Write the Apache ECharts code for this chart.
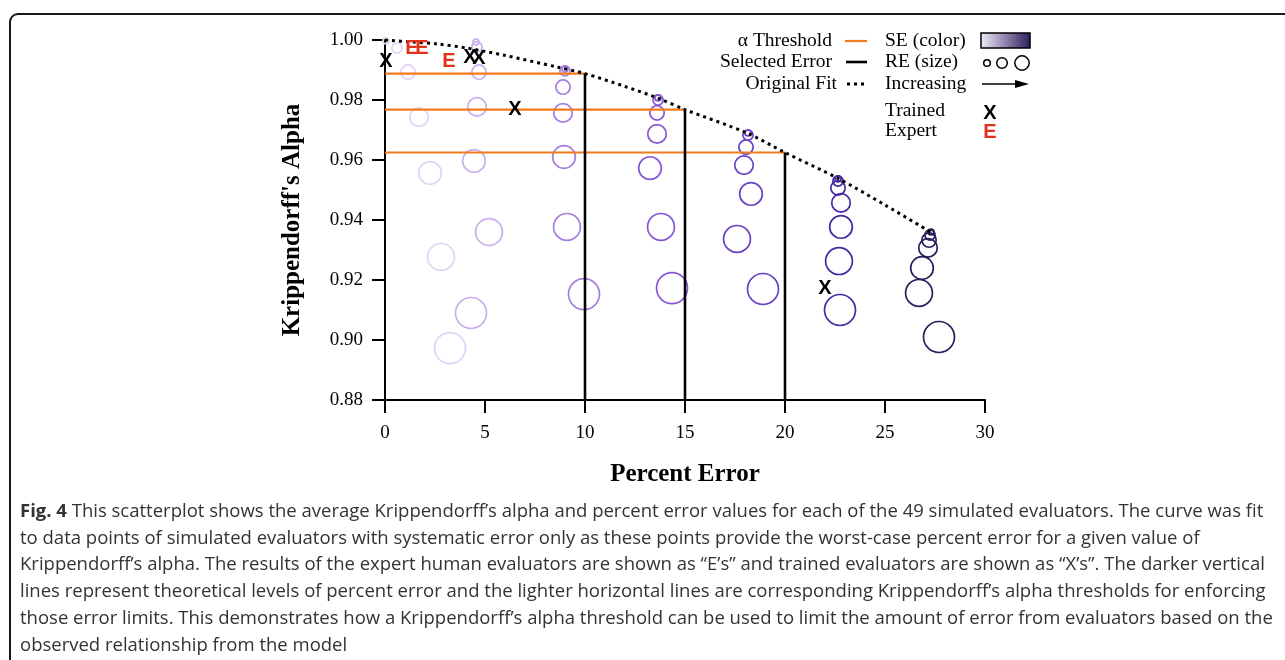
<!DOCTYPE html>
<html>
<head>
<meta charset="utf-8">
<title>Fig. 4</title>
<script src="https://cdn.jsdelivr.net/npm/echarts@6.0.0/dist/echarts.min.js"></script>
<style>
  html, body { margin: 0; padding: 0; background: #fff; }
  #main { position: absolute; left: 0; top: 0; width: 1285px; height: 495px; }
  #frame { position: absolute; left: 9px; top: 13px; width: 1320px; height: 700px; border: 2px solid #1a1a1a; border-radius: 9px; pointer-events: none; }
  #caption { position: absolute; left: 20px; top: 497px; font-family: 'Open Sans', sans-serif; font-size: 18.5px; line-height: 26.7px; color: #333; white-space: nowrap; }
</style>
</head>
<body>
<div id="main"></div>
<div id="frame"></div>
<div id="caption"><b>Fig. 4</b> This scatterplot shows the average Krippendorff’s alpha and percent error values for each of the 49 simulated evaluators. The curve was fit<br>to data points of simulated evaluators with systematic error only as these points provide the worst-case percent error for a given value of<br>Krippendorff’s alpha. The results of the expert human evaluators are shown as “E’s” and trained evaluators are shown as “X’s”. The darker vertical<br>lines represent theoretical levels of percent error and the lighter horizontal lines are corresponding Krippendorff’s alpha thresholds for enforcing<br>those error limits. This demonstrates how a Krippendorff’s alpha threshold can be used to limit the amount of error from evaluators based on the<br>observed relationship from the model</div>
<script>
// simulated evaluators: one row per SE level (light -> dark), RE level 0..6 inside each row
var reLevels = [0, 1, 2, 3, 4, 5, 6];
var simError = [
  [0.05, 0.6, 1.15, 1.7, 2.25, 2.8, 3.25],
  [4.55, 4.6, 4.7, 4.6, 4.45, 5.2, 4.3],
  [9.0, 9.0, 8.9, 8.9, 8.95, 9.1, 9.95],
  [13.65, 13.65, 13.6, 13.6, 13.25, 13.8, 14.35],
  [18.15, 18.15, 18.05, 17.95, 18.3, 17.6, 18.9],
  [22.65, 22.65, 22.65, 22.8, 22.8, 22.7, 22.75],
  [27.3, 27.25, 27.2, 27.15, 26.85, 26.7, 27.7]
];
var simAlpha = [
  [0.9997, 0.9973, 0.9893, 0.9743, 0.9557, 0.9277, 0.8973],
  [0.9993, 0.9977, 0.9893, 0.9777, 0.9597, 0.9360, 0.9090],
  [0.9903, 0.9897, 0.9843, 0.9757, 0.9610, 0.9377, 0.9153],
  [0.9807, 0.9800, 0.9757, 0.9687, 0.9573, 0.9377, 0.9173],
  [0.9690, 0.9683, 0.9643, 0.9583, 0.9487, 0.9337, 0.9170],
  [0.9537, 0.9530, 0.9507, 0.9457, 0.9377, 0.9263, 0.9100],
  [0.9360, 0.9350, 0.9333, 0.9307, 0.9240, 0.9157, 0.9010]
];

// original fit curve
var fitError = [0, 1.4, 2.6, 4.1, 5.9, 8.6, 10, 12, 13.7, 15, 18.1, 20, 22.7, 25, 27.4];
var fitAlpha = [1.000, 0.9993, 0.9987, 0.9973, 0.9950, 0.9910, 0.9888, 0.9845, 0.9805, 0.9768, 0.9690, 0.9625, 0.9537, 0.9450, 0.9355];

// selected error levels and their alpha thresholds
var selectedError = [10, 15, 20];
var alphaThreshold = [0.9888, 0.9768, 0.9625];

// human evaluators
var trainedError = [0.05, 4.25, 4.7, 6.5, 22.0];
var trainedAlpha = [0.9927, 0.9943, 0.9940, 0.9767, 0.9173];
var expertError = [1.35, 1.85, 3.2];
var expertAlpha = [0.9973, 0.9973, 0.9927];

var seColors = ['#e2d3f5', '#caaeee', '#a47ee2', '#8656d6', '#6a40c6', '#4528a2', '#25205e'];
var serif = '"Liberation Serif", "Times New Roman", serif';
var sans = '"Liberation Sans", Arial, sans-serif';

var myChart = echarts.init(document.getElementById('main'));

var series = [];
simError.forEach(function (row, i) {
  series.push({
    type: 'scatter',
    name: 'SE' + i,
    symbol: 'circle',
    data: row.map(function (x, j) { return [x, simAlpha[i][j], reLevels[j]]; }),
    itemStyle: { color: 'rgba(255,255,255,0)', borderColor: seColors[i], borderWidth: 1.7, opacity: 1 },
    emphasis: { disabled: true },
    z: 2
  });
});
var nBubble = series.length;

series.push({
  type: 'line',
  name: 'Original Fit',
  data: fitError.map(function (x, i) { return [x, fitAlpha[i]]; }),
  smooth: 0.3,
  symbol: 'none',
  lineStyle: { color: '#000', width: 3, type: [3, 4] },
  z: 5
});

selectedError.forEach(function (e, i) {
  series.push({
    type: 'line', name: 'threshold' + i, symbol: 'none',
    data: [[0, alphaThreshold[i]], [e, alphaThreshold[i]]],
    lineStyle: { color: '#f07a1c', width: 2.2 }, z: 3
  });
  series.push({
    type: 'line', name: 'selected' + i, symbol: 'none',
    data: [[e, 0.88], [e, alphaThreshold[i]]],
    lineStyle: { color: '#000', width: 2.6 }, z: 4
  });
});

function markerSeries(name, xs, ys, glyph, color) {
  return {
    type: 'scatter', name: name, symbol: 'circle', symbolSize: 2,
    data: xs.map(function (x, i) { return [x, ys[i]]; }),
    itemStyle: { color: 'rgba(0,0,0,0)', opacity: 1 },
    label: {
      show: true, position: 'inside', formatter: glyph, opacity: 1,
      color: color, fontFamily: sans, fontWeight: 'bold', fontSize: 20
    },
    emphasis: { disabled: true },
    z: 6
  };
}
series.push(markerSeries('Trained', trainedError, trainedAlpha, 'X', '#000'));
series.push(markerSeries('Expert', expertError, expertAlpha, 'E', '#e2321e'));

var legendFont = '19.5px ' + serif;
function txt(s, x, y, align) {
  return { type: 'text', x: x, y: y, z: 10,
    style: { text: s, font: legendFont, fill: '#000', align: align, verticalAlign: 'middle' } };
}

var graphic = [
  txt('α Threshold', 832, 41, 'right'),
  { type: 'line', z: 10, shape: { x1: 845, y1: 41, x2: 867, y2: 41 }, style: { stroke: '#f07a1c', lineWidth: 2.2 } },
  txt('Selected Error', 832, 62, 'right'),
  { type: 'line', z: 10, shape: { x1: 846, y1: 62, x2: 867, y2: 62 }, style: { stroke: '#000', lineWidth: 2.6 } },
  txt('Original Fit', 837, 84, 'right'),
  { type: 'line', z: 10, shape: { x1: 847, y1: 84, x2: 868, y2: 84 }, style: { stroke: '#000', lineWidth: 3, lineDash: [3, 4] } },
  txt('SE (color)', 885, 41, 'left'),
  { type: 'rect', z: 10, shape: { x: 981, y: 33, width: 49, height: 15 },
    style: { fill: new echarts.graphic.LinearGradient(0, 0, 1, 0, [
      { offset: 0, color: '#f3ecfb' }, { offset: 1, color: '#2a1c5c' }]), stroke: '#000', lineWidth: 1.5 } },
  txt('RE (size)', 885, 62, 'left'),
  { type: 'circle', z: 10, shape: { cx: 987, cy: 63, r: 3.3 }, style: { fill: 'none', stroke: '#000', lineWidth: 1.5 } },
  { type: 'circle', z: 10, shape: { cx: 1002, cy: 63, r: 5.3 }, style: { fill: 'none', stroke: '#000', lineWidth: 1.5 } },
  { type: 'circle', z: 10, shape: { cx: 1022, cy: 63, r: 7.2 }, style: { fill: 'none', stroke: '#000', lineWidth: 1.5 } },
  txt('Increasing', 885, 84, 'left'),
  { type: 'line', z: 10, shape: { x1: 982, y1: 84, x2: 1020, y2: 84 }, style: { stroke: '#000', lineWidth: 1.6 } },
  { type: 'polygon', z: 10, shape: { points: [[1029, 84], [1015, 80], [1015, 88]] }, style: { fill: '#000' } },
  txt('Trained', 885, 111, 'left'),
  { type: 'text', x: 990, y: 113, z: 10, style: { text: 'X', font: 'bold 20px ' + sans, fill: '#000', align: 'center', verticalAlign: 'middle' } },
  txt('Expert', 885, 131, 'left'),
  { type: 'text', x: 990, y: 132, z: 10, style: { text: 'E', font: 'bold 20px ' + sans, fill: '#e2321e', align: 'center', verticalAlign: 'middle' } }
];

myChart.setOption({
  animation: false,
  grid: { left: 385, top: 40, width: 600, height: 360 },
  xAxis: {
    type: 'value', min: 0, max: 30, interval: 5,
    name: 'Percent Error', nameLocation: 'middle', nameGap: 62,
    nameTextStyle: { fontFamily: serif, fontWeight: 'bold', fontSize: 25, color: '#000' },
    axisLine: { lineStyle: { color: '#000', width: 2 } },
    axisTick: { length: 13, lineStyle: { color: '#000', width: 2 } },
    axisLabel: { margin: 24, fontFamily: serif, fontSize: 19, color: '#000' },
    splitLine: { show: false }
  },
  yAxis: {
    type: 'value', min: 0.88, max: 1.0, interval: 0.02,
    name: "Krippendorff's Alpha", nameLocation: 'middle', nameGap: 80, nameRotate: 90,
    nameTextStyle: { fontFamily: serif, fontWeight: 'bold', fontSize: 25, color: '#000' },
    axisLine: { onZero: false, lineStyle: { color: '#000', width: 2 } },
    axisTick: { length: 13, lineStyle: { color: '#000', width: 2 } },
    axisLabel: { margin: 22, fontFamily: serif, fontSize: 19, color: '#000',
      formatter: function (v) { return v.toFixed(2); } },
    splitLine: { show: false }
  },
  visualMap: [{
    type: 'continuous', show: false, dimension: 2,
    min: 0, max: 6,
    seriesIndex: series.slice(0, nBubble).map(function (s, i) { return i; }),
    inRange: { symbolSize: [6, 31] }
  }],
  graphic: graphic,
  series: series
});
</script>
</body>
</html>
